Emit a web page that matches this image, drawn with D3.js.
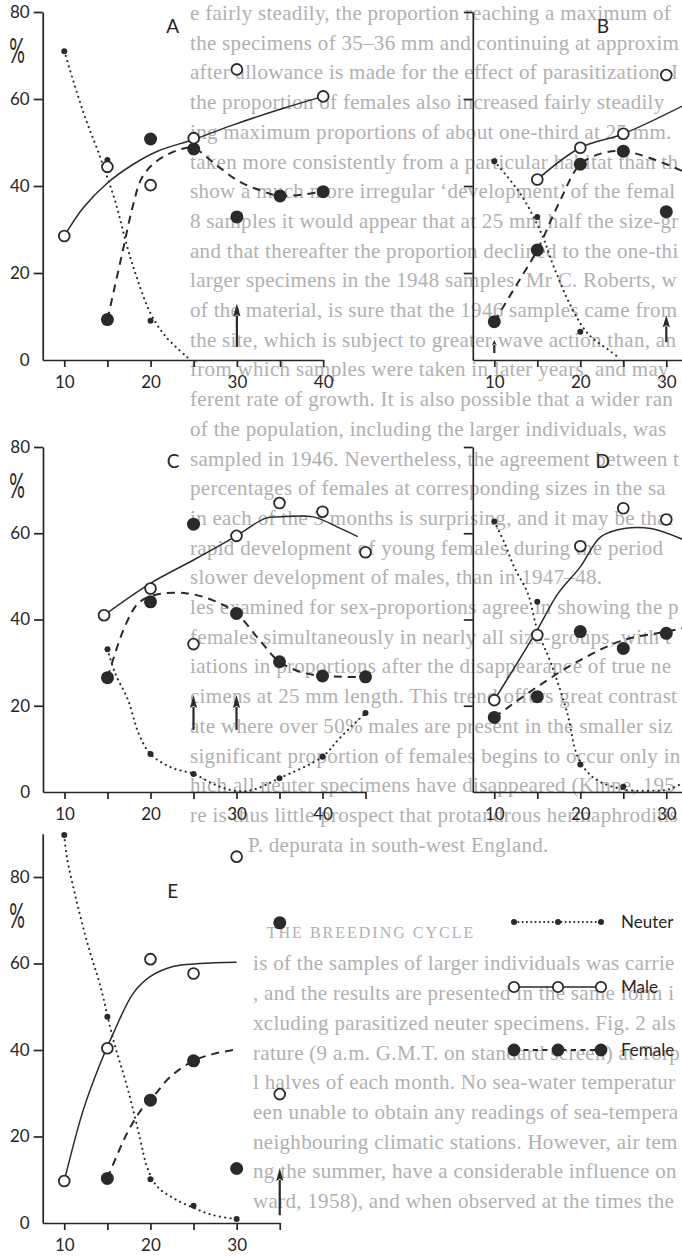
<!DOCTYPE html>
<html>
<head>
<meta charset="utf-8">
<script src="https://cdn.jsdelivr.net/npm/d3@7"></script>
<style>
  body { margin: 0; background: #fff; }
  svg { display: block; }
  .page { font-family: "Liberation Serif", "DejaVu Serif", serif; font-size: 21px; letter-spacing: 0.3px; fill: #b0b0b0; }
  .tick text, .lab { font-family: Lato, "Open Sans", sans-serif; fill: #262626; }
  .domain, .tick line { stroke: #262626; stroke-width: 1.7; }
</style>
</head>
<body>
<script>
var width = 682, height = 1257;

// percentages per size group (mm)
// A
var aNeuter = [[10, 71], [15, 46], [20, 9]];
var aMale = [[10, 28.5], [15, 44.4], [20, 40.2], [25, 51], [30, 66.8], [40, 60.6]];
var aFemale = [[15, 9.3], [20, 50.8], [25, 48.5], [30, 32.9], [35, 37.7], [40, 38.7]];
var aNeuterCurve = [[10, 71], [12.2, 57], [14.2, 46.4], [15.9, 36.5], [17.2, 26.7], [18.4, 19], [20, 10.7], [21.8, 5.3], [24.4, 0.4]];
var aMaleCurve = [[10, 28.5], [12.2, 35], [15, 40.7], [18, 45], [20.8, 48], [25, 50.7], [29.5, 54], [35.3, 57.8], [40, 60.6]];
var aFemaleCurve = [[15, 9.3], [16.7, 24.4], [17.9, 35], [19, 41.9], [20.7, 45.7], [23.4, 48.4], [25, 48.7], [27.5, 45], [30.3, 41], [33, 38.8], [35, 37.7], [40, 38.7]];
var aArrows = [[30, 3, 13]];

// B
var bNeuter = [[10, 45.7], [15, 32.9], [20, 6.5]];
var bMale = [[15, 41.5], [20, 48.8], [25, 52], [30, 65.5]];
var bFemale = [[10, 8.8], [15, 25.3], [20, 45], [25, 48], [30, 34.1]];
var bNeuterCurve = [[10, 45.7], [13.1, 38], [15.5, 29], [17, 21], [19, 12], [20.9, 6], [23.3, 2.3], [24.4, 0.7]];
var bMaleCurve = [[15, 41.5], [20, 48.8], [25, 52], [33, 59.5]];
var bFemaleCurve = [[10, 8.8], [12.5, 17], [15, 25.3], [17.5, 36], [20, 45], [22.5, 47.5], [25, 48], [28, 46.5], [33, 42.5]];
var bArrows = [[10, 1.6, 4.6], [30, 4.1, 10.3]];

// C
var cNeuter = [[15, 33.1], [20, 8.8], [25, 4.2], [35, 3.2], [40, 8.2], [45, 18.3]];
var cMale = [[14.6, 41], [20, 47.2], [25, 34.3], [30, 59.4], [35, 67], [40, 65], [45, 55.6]];
var cFemale = [[15, 26.5], [20, 44.1], [25, 62.1], [30, 41.4], [35, 30.2], [40, 26.9], [45, 26.7]];
var cNeuterCurve = [[15, 33.1], [15.9, 27.5], [17.4, 21.3], [18.6, 13.7], [20, 8.8], [22.5, 5.6], [25, 4.2], [27.6, 1.6], [30, 0.2], [31.9, 0.5], [35, 3.2], [40, 8.2], [42, 12.5], [45, 18.3]];
var cMaleCurve = [[14.6, 41], [20, 48.4], [25, 53.8], [30, 59.4], [33.4, 63.5], [35, 63.8], [38.9, 63.8], [42.2, 61], [44.1, 59.2]];
var cFemaleCurve = [[15, 26.5], [17, 38.3], [18.6, 43.8], [20.5, 45.7], [24.1, 46.1], [27.2, 44.5], [30, 41.4], [32.7, 35.2], [35, 30.2], [38.1, 27.5], [42.2, 26.7], [45, 26.7]];
var cArrows = [[25, 14.4, 22.5], [30, 14.4, 22.5]];

// D
var dNeuter = [[10, 62.7], [15, 44.1], [20, 6.4], [25, 1.2]];
var dMale = [[10, 21.3], [15, 36.4], [20, 57], [25, 65.8], [30, 63.2]];
var dFemale = [[10, 17.3], [15, 22.1], [20, 37.2], [25, 33.3], [30, 36.8]];
var dNeuterCurve = [[10, 62.7], [11.2, 57.7], [12.3, 52.2], [13.9, 46], [15, 37.6], [16.6, 29.8], [18.5, 18.2], [19.7, 8.2], [21.6, 3.2], [25, 0.6], [28.5, 0.3], [30.3, 0.6], [32, 2.2]];
var dMaleCurve = [[10, 21.3], [15, 37.6], [17.4, 46], [20, 52.2], [22.4, 59.2], [25.1, 61.1], [28.2, 61.1], [32, 58.5]];
var dFemaleCurve = [[10, 17.3], [15, 24.4], [20, 30.6], [25, 35.2], [30, 37.2], [32, 38]];
var dArrows = [];

// E
var eNeuter = [[10, 89.7], [15, 47.7], [20, 10.1], [25, 4], [30, 0.9]];
var eMale = [[10, 9.7], [15, 40.4], [20, 61], [25, 57.7], [30, 84.7], [35, 29.8]];
var eFemale = [[15, 10.3], [20, 28.4], [25, 37.5], [30, 12.6], [35, 69.4]];
var eNeuterCurve = [[10, 89.7], [10.3, 84.7], [11.4, 74.7], [12.8, 63.9], [14.2, 54.7], [15.7, 42.3], [17.3, 31.5], [18.8, 19.5], [19.6, 13], [20.8, 8.4], [22.7, 5.7], [25, 3.5], [27.3, 1.8], [30, 0.9]];
var eMaleCurve = [[10, 9.7], [12.2, 26.1], [14.2, 37], [15.7, 43.9], [18, 53.1], [20, 57], [22.6, 59.3], [25.7, 60], [30, 60.3]];
var eFemaleCurve = [[15, 10.3], [17.3, 20.8], [19.2, 26.9], [20, 28.4], [22.3, 33.8], [25, 37.5], [27.3, 39.1], [29.6, 40]];
var eArrows = [[35, 1.8, 12.7]];

var yTickValues = [0, 20, 40, 60, 80];
var xTickValues = [10, 15, 20, 25, 30, 35, 40, 45];
var panelLetters = ["A", "B", "C", "D", "E"];
var legendLabels = ["Neuter", "Male", "Female"];

// text of the printed page behind the figure (one entry per printed line, "" = blank line)
var pageLines = [
  "e fairly steadily, the proportion reaching a maximum of",
  "the specimens of 35\u201336 mm and continuing at approximately",
  "after allowance is made for the effect of parasitization. In",
  "the proportion of females also increased fairly steadily with",
  "ing maximum proportions of about one-third at 25 mm. The",
  "taken more consistently from a particular habitat than the sam",
  "show a much more irregular \u2018development\u2019 of the females",
  "8 samples it would appear that at 25 mm half the size-group",
  "and that thereafter the proportion declined to the one-third",
  "larger specimens in the 1948 samples. Mr C. Roberts, who",
  "of the material, is sure that the 1946 samples came from the",
  "the site, which is subject to greater wave action than, and lies",
  "from which samples were taken in later years, and may well",
  "ferent rate of growth. It is also possible that a wider range",
  "of the population, including the larger individuals, was",
  "sampled in 1946. Nevertheless, the agreement between the",
  "percentages of females at corresponding sizes in the samples",
  "in each of the 3 months is surprising, and it may be that the",
  "rapid development of young females during the period",
  "slower development of males, than in 1947\u201348.",
  "les examined for sex-proportions agree in showing the presence",
  "females simultaneously in nearly all size-groups, with the",
  "iations in proportions after the disappearance of true neuter",
  "cimens at 25 mm length. This trend offers great contrast with",
  "ate where over 50% males are present in the smaller size",
  "significant proportion of females begins to occur only in size",
  "hich all neuter specimens have disappeared (Kinne, 1956). On",
  "re is thus little prospect that protandrous hermaphroditism",
  "P. depurata in south-west England.",
  "",
  "",
  "THE BREEDING CYCLE",
  "is of the samples of larger individuals was carried out as",
  ", and the results are presented in the same form in Table",
  "xcluding parasitized neuter specimens. Fig. 2 also shows the",
  "rature (9 a.m. G.M.T. on standard screen) at Torpoint for",
  "l halves of each month. No sea-water temperatures were taken",
  "een unable to obtain any readings of sea-temperature for",
  "neighbouring climatic stations. However, air temperatures",
  "ng the summer, have a considerable influence on inverte",
  "ward, 1958), and when observed at the times they have a"
];

var svg = d3.select("body").append("svg")
    .attr("width", width)
    .attr("height", height);

svg.append("rect").attr("width", width).attr("height", height).attr("fill", "#fff");

// background page text, cut where the scan ends on the right
var page = svg.append("g").attr("class", "page");
var headingRow = pageLines.indexOf("THE BREEDING CYCLE");
pageLines.forEach(function(t, i) {
  if (!t) return;
  var y0 = 20 + i * 29.7;
  if (i == headingRow) {
    page.append("text")
        .attr("x", 371).attr("y", y0 - 3)
        .attr("text-anchor", "middle")
        .style("font-size", "16px").style("letter-spacing", "2px")
        .text(t);
    return;
  }
  var x0 = i > headingRow ? 253 : (t.indexOf("P. dep") == 0 ? 248 : 190);
  var node = page.append("text").attr("x", x0).attr("y", y0).text(t);
  var s = t;
  while (s.length > 1 && node.node().getComputedTextLength() > width - x0 - 1) {
    s = s.slice(0, -1);
    node.text(s);
  }
});

// panel layout
var panels = [
  {letter: 0, left: 42.7, step: 8.63, xMax: 40, bottom: 360, top80: 12, yMax: 80, yLabels: true,
   neuter: aNeuter, male: aMale, female: aFemale, nc: aNeuterCurve, mc: aMaleCurve, fc: aFemaleCurve, arrows: aArrows},
  {letter: 1, left: 472.8, step: 8.6, xMax: 40, bottom: 360, top80: 12, yMax: 80, yLabels: false,
   neuter: bNeuter, male: bMale, female: bFemale, nc: bNeuterCurve, mc: bMaleCurve, fc: bFemaleCurve, arrows: bArrows},
  {letter: 2, left: 43, step: 8.6, xMax: 45, bottom: 792, top80: 447, yMax: 80, yLabels: true,
   neuter: cNeuter, male: cMale, female: cFemale, nc: cNeuterCurve, mc: cMaleCurve, fc: cFemaleCurve, arrows: cArrows},
  {letter: 3, left: 472.8, step: 8.6, xMax: 40, bottom: 792, top80: 447, yMax: 80, yLabels: false,
   neuter: dNeuter, male: dMale, female: dFemale, nc: dNeuterCurve, mc: dMaleCurve, fc: dFemaleCurve, arrows: dArrows},
  {letter: 4, left: 42.7, step: 8.62, xMax: 35, bottom: 1223, top80: 877, yMax: 90, yLabels: true,
   neuter: eNeuter, male: eMale, female: eFemale, nc: eNeuterCurve, mc: eMaleCurve, fc: eFemaleCurve, arrows: eArrows}
];

panels.forEach(drawPanel);

function drawPanel(p) {
  var per = (p.bottom - p.top80) / 80;
  var x = d3.scaleLinear().domain([7.5, p.xMax]).range([p.left, p.left + (p.xMax - 7.5) * p.step]);
  var y = d3.scaleLinear().domain([0, p.yMax]).range([p.bottom, p.bottom - p.yMax * per]);
  var g = svg.append("g");

  // axes
  var yAxis = d3.axisLeft(y)
      .tickValues(yTickValues)
      .tickSize(9)
      .tickSizeOuter(0)
      .tickPadding(4)
      .tickFormat(p.yLabels ? d3.format("d") : "");
  var ya = g.append("g")
      .attr("transform", "translate(" + p.left + ",0)")
      .call(yAxis);
  ya.selectAll(".tick").filter(function(d) { return d === 0; }).select("line").remove();

  var xAxis = d3.axisBottom(x)
      .tickValues(xTickValues.filter(function(v) { return v <= p.xMax; }))
      .tickSize(7)
      .tickSizeOuter(0)
      .tickPadding(9)
      .tickFormat(function(d) { return d % 10 === 0 ? d : ""; });
  g.append("g")
      .attr("transform", "translate(0," + p.bottom + ")")
      .call(xAxis);

  g.selectAll(".tick text").style("font-size", "17px");
  // drop labels that fall past the right edge
  g.selectAll(".tick").filter(function(d) { return x(d) > width - 8; }).select("text").remove();

  // fitted curves
  var line = d3.line()
      .x(function(d) { return x(d[0]); })
      .y(function(d) { return y(d[1]); })
      .curve(d3.curveCatmullRom.alpha(0.5));

  g.append("path").datum(p.nc).attr("d", line)
      .attr("fill", "none").attr("stroke", "#2a2a2a").attr("stroke-width", 2.1)
      .attr("stroke-linecap", "round").attr("stroke-dasharray", "0.1,5.2");
  g.append("path").datum(p.mc).attr("d", line)
      .attr("fill", "none").attr("stroke", "#2a2a2a").attr("stroke-width", 1.5);
  g.append("path").datum(p.fc).attr("d", line)
      .attr("fill", "none").attr("stroke", "#2a2a2a").attr("stroke-width", 2)
      .attr("stroke-dasharray", "8,6");

  // points
  g.selectAll(".neuter").data(p.neuter).enter().append("circle")
      .attr("cx", function(d) { return x(d[0]); })
      .attr("cy", function(d) { return y(d[1]); })
      .attr("r", 3).attr("fill", "#2a2a2a");
  g.selectAll(".female").data(p.female).enter().append("circle")
      .attr("cx", function(d) { return x(d[0]); })
      .attr("cy", function(d) { return y(d[1]); })
      .attr("r", 6.5).attr("fill", "#2a2a2a");
  g.selectAll(".male").data(p.male).enter().append("circle")
      .attr("cx", function(d) { return x(d[0]); })
      .attr("cy", function(d) { return y(d[1]); })
      .attr("r", 5.4).attr("fill", "#fff").attr("stroke", "#2a2a2a").attr("stroke-width", 1.8);

  // arrows
  p.arrows.forEach(function(a) {
    var ax = x(a[0]), y0 = y(a[1]), y1 = y(a[2]);
    var head = Math.min(13, (y0 - y1) * 0.45);
    var hw = head > 8 ? 3.6 : 2.6;
    g.append("line")
        .attr("x1", ax).attr("x2", ax)
        .attr("y1", y0).attr("y2", y1 + head - 1)
        .attr("stroke", "#2a2a2a").attr("stroke-width", 2.2);
    g.append("path")
        .attr("d", "M" + ax + "," + y1 + "L" + (ax + hw) + "," + (y1 + head) +
                   "L" + ax + "," + (y1 + head - 2) + "L" + (ax - hw) + "," + (y1 + head) + "Z")
        .attr("fill", "#2a2a2a");
  });

  // panel letter
  g.append("text").attr("class", "lab")
      .attr("x", p.left + 130)
      .attr("y", p.top80 + 21)
      .attr("text-anchor", "middle")
      .style("font-size", "19px")
      .text(panelLetters[p.letter]);

  // % sign on the labelled axes
  if (p.yLabels) {
    g.append("text").attr("class", "lab")
        .attr("transform", "translate(17," + (p.top80 + 51) + ") scale(0.85,1.5)")
        .attr("text-anchor", "middle")
        .style("font-size", "23px")
        .text("%");
  }
}

// legend
var legendX = [514, 558, 601];
var legendY = [922, 987, 1050];
var legend = svg.append("g");
legendLabels.forEach(function(name, i) {
  var ly = legendY[i];
  var seg = legend.append("line")
      .attr("x1", legendX[0]).attr("x2", legendX[2])
      .attr("y1", ly).attr("y2", ly)
      .attr("stroke", "#2a2a2a");
  if (i == 0) seg.attr("stroke-width", 2).attr("stroke-linecap", "round").attr("stroke-dasharray", "0.1,4.2");
  if (i == 1) seg.attr("stroke-width", 1.6);
  if (i == 2) seg.attr("stroke-width", 2).attr("stroke-dasharray", "5,4.5");
  legendX.forEach(function(lx) {
    var c = legend.append("circle").attr("cx", lx).attr("cy", ly);
    if (i == 0) c.attr("r", 3).attr("fill", "#2a2a2a");
    if (i == 1) c.attr("r", 5.2).attr("fill", "#fff").attr("stroke", "#2a2a2a").attr("stroke-width", 1.8);
    if (i == 2) c.attr("r", 6.4).attr("fill", "#2a2a2a");
  });
  legend.append("text").attr("class", "lab")
      .attr("x", 621).attr("y", ly + 6)
      .style("font-size", "17px")
      .text(name);
});
</script>
</body>
</html>
